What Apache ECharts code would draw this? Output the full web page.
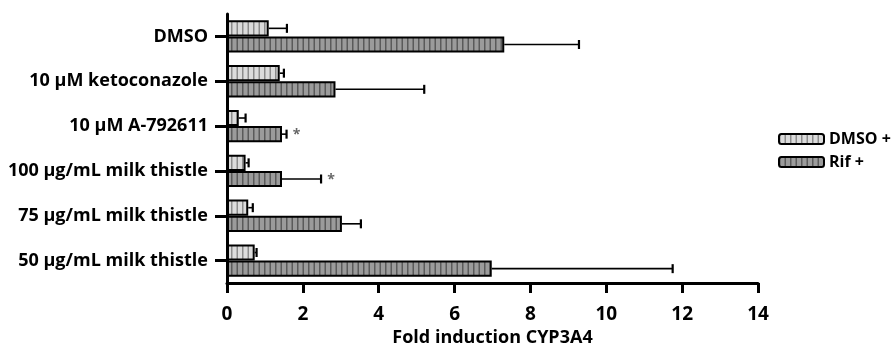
<!DOCTYPE html>
<html>
<head>
<meta charset="utf-8">
<script src="https://cdn.jsdelivr.net/npm/echarts@6/dist/echarts.min.js"></script>
<style>
  html, body { margin: 0; padding: 0; background: #fff; }
  #chart { width: 895px; height: 344px; }
</style>
</head>
<body>
<div id="chart"></div>
<script>
// Treatments, top to bottom
const categories = [
  'DMSO',
  '10 μM ketoconazole',
  '10 μM A-792611',
  '100 μg/mL milk thistle',
  '75 μg/mL milk thistle',
  '50 μg/mL milk thistle'
];
// Fold induction of CYP3A4 and the upper error (SD) for each treatment
const dmsoMean = [1.10, 1.39, 0.31, 0.49, 0.56, 0.73];
const dmsoErr  = [0.48, 0.11, 0.18, 0.08, 0.12, 0.05];
const rifMean  = [7.31, 2.86, 1.45, 1.45, 3.03, 6.98];
const rifErr   = [1.97, 2.34, 0.12, 1.03, 0.50, 4.77];
// Rif + results marked as significant
const rifMarked = [false, false, true, true, false, false];
const seriesNames = ['DMSO +', 'Rif +'];
const xTicks = { min: 0, max: 14, interval: 2 };

const FONT = '"Open Sans", "DejaVu Sans", sans-serif';

// Vertical-stripe fill used for the hatched bars
function stripes(base, line) {
  const c = document.createElement('canvas');
  c.width = 11; c.height = 8;
  const g = c.getContext('2d');
  g.fillStyle = base;
  g.fillRect(0, 0, 11, 8);
  g.fillStyle = line;
  g.fillRect(0, 0, 1.5, 8);
  g.fillRect(5.5, 0, 1.5, 8);
  return { image: c, repeat: 'repeat' };
}
const dmsoFill = stripes('#dcdcdc', '#8c8c8c');
const rifFill = stripes('#9b9b9b', '#5a5a5a');

const BAR_FRAC = 0.36;

// Error bars (and significance marks) for one group of bars
function errorSeries(means, errs, side, marks) {
  return {
    type: 'custom',
    silent: true,
    z: 5,
    data: means.map((m, i) => [i, m, m + errs[i], marks ? (marks[i] ? 1 : 0) : 0]),
    encode: { x: [1, 2], y: 0 },
    renderItem: function (params, api) {
      const cat = api.value(0);
      const a = api.coord([api.value(1), cat]);
      const b = api.coord([api.value(2), cat]);
      const band = api.size([0, 1])[1];
      const y = a[1] + side * band * BAR_FRAC / 2;
      const capH = 9;
      const children = [
        { type: 'line', shape: { x1: a[0], y1: y, x2: b[0], y2: y },
          style: { stroke: '#000', lineWidth: 1.6 } },
        { type: 'line', shape: { x1: b[0], y1: y - capH / 2, x2: b[0], y2: y + capH / 2 },
          style: { stroke: '#000', lineWidth: 2.2 } }
      ];
      if (api.value(3) === 1) {
        children.push({
          type: 'text',
          style: { x: b[0] + 10, y: y + 1, text: '*', fill: '#666',
                   font: 'bold 14px ' + FONT, align: 'center', verticalAlign: 'middle' }
        });
      }
      return { type: 'group', children: children };
    }
  };
}

const chart = echarts.init(document.getElementById('chart'), null, { renderer: 'canvas' });
chart.setOption({
  animation: false,
  backgroundColor: '#fff',
  grid: { left: 227, right: 137, top: 14, bottom: 61, containLabel: false, outerBoundsMode: 'none' },
  legend: {
    orient: 'vertical',
    left: 773,
    top: 126,
    itemWidth: 45,
    itemHeight: 10,
    itemGap: 7,
    data: seriesNames,
    textStyle: { fontFamily: FONT, fontWeight: 'bold', fontSize: 16, color: '#000' }
  },
  xAxis: {
    type: 'value',
    min: xTicks.min, max: xTicks.max, interval: xTicks.interval,
    name: 'Fold induction CYP3A4',
    nameLocation: 'middle',
    nameGap: 40,
    nameTextStyle: { fontFamily: FONT, fontWeight: 'bold', fontSize: 18, color: '#000' },
    axisLine: { show: true, lineStyle: { color: '#000', width: 3 } },
    axisTick: { show: true, length: 10, lineStyle: { color: '#000', width: 3 } },
    axisLabel: { margin: 22, fontFamily: FONT, fontWeight: 'bold', fontSize: 19, color: '#000' },
    splitLine: { show: false }
  },
  yAxis: {
    type: 'category',
    inverse: true,
    data: categories,
    axisLine: { show: true, lineStyle: { color: '#000', width: 3 } },
    axisTick: { show: true, alignWithLabel: true, length: 12, lineStyle: { color: '#000', width: 3 } },
    axisLabel: { margin: 19, fontFamily: FONT, fontWeight: 'bold', fontSize: 18, color: '#000' }
  },
  series: [
    {
      name: seriesNames[0], type: 'bar', data: dmsoMean,
      barWidth: (BAR_FRAC * 100) + '%', barGap: '0%',
      itemStyle: { color: dmsoFill, borderColor: '#000', borderWidth: 2 }
    },
    {
      name: seriesNames[1], type: 'bar', data: rifMean,
      barWidth: (BAR_FRAC * 100) + '%', barGap: '0%',
      itemStyle: { color: rifFill, borderColor: '#000', borderWidth: 2 }
    },
    errorSeries(dmsoMean, dmsoErr, -1, null),
    errorSeries(rifMean, rifErr, 1, rifMarked)
  ]
});
</script>
</body>
</html>
